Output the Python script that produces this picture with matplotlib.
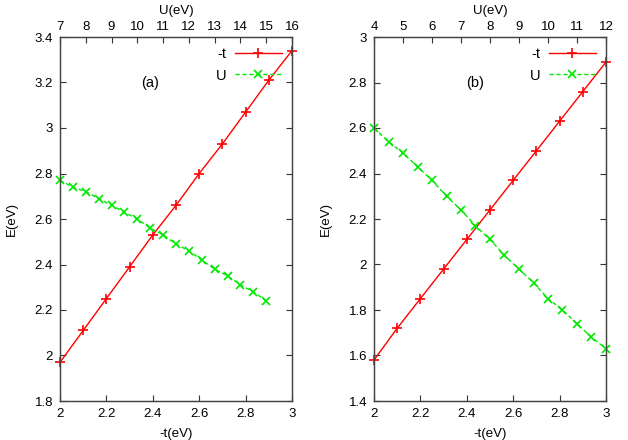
import matplotlib
matplotlib.use("Agg")
import matplotlib.pyplot as plt
import numpy as np

plt.rcParams['font.family'] = ['Liberation Sans', 'DejaVu Sans']
plt.rcParams['font.size'] = 9.5

# panel (a)
t_a = [2.0, 2.1, 2.2, 2.3, 2.4, 2.5, 2.6, 2.7, 2.8, 2.9, 3.0]
E_t_a = [1.97, 2.11, 2.25, 2.39, 2.53, 2.66, 2.80, 2.93, 3.07, 3.21, 3.34]
U_a = [7.0, 7.5, 8.0, 8.5, 9.0, 9.5, 10.0, 10.5, 11.0, 11.5, 12.0, 12.5, 13.0, 13.5, 14.0, 14.5, 15.0]
E_U_a = [2.77, 2.74, 2.72, 2.69, 2.66, 2.63, 2.60, 2.56, 2.53, 2.49, 2.46, 2.42, 2.38, 2.35, 2.31, 2.28, 2.24]

# panel (b)
t_b = [2.0, 2.1, 2.2, 2.3, 2.4, 2.5, 2.6, 2.7, 2.8, 2.9, 3.0]
E_t_b = [1.58, 1.72, 1.85, 1.98, 2.11, 2.24, 2.37, 2.50, 2.63, 2.76, 2.89]
U_b = [4.0, 4.5, 5.0, 5.5, 6.0, 6.5, 7.0, 7.5, 8.0, 8.5, 9.0, 9.5, 10.0, 10.5, 11.0, 11.5, 12.0]
E_U_b = [2.60, 2.54, 2.49, 2.43, 2.37, 2.30, 2.24, 2.17, 2.11, 2.04, 1.98, 1.92, 1.85, 1.80, 1.74, 1.68, 1.63]

panels = [
    dict(t=t_a, Et=E_t_a, U=U_a, EU=E_U_a, ylim=(1.8, 3.4), ulim=(7, 16),
         uticks=np.arange(7, 17, 1), label='(a)', lx=2.39, ly=3.2, left=60),
    dict(t=t_b, Et=E_t_b, U=U_b, EU=E_U_b, ylim=(1.4, 3.0), ulim=(4, 12),
         uticks=np.arange(4, 13, 1), label='(b)', lx=2.435, ly=2.8, left=374),
]

W, H = 628, 440
fig = plt.figure(figsize=(W / 100, H / 100), dpi=100)

red = '#ff0000'
green = '#00e800'

for p in panels:
    ax = fig.add_axes([p['left'] / W, (H - 401) / H, 232 / W, 364 / H])
    ax2 = ax.twiny()

    l1, = ax.plot(p['t'], p['Et'], color=red, lw=1.0, marker='+', ms=6.5, mew=1.2,
                  label='-t', clip_on=False)
    l2, = ax2.plot(p['U'], p['EU'], color=green, lw=1.0, ls=(0, (3, 2)), marker='x',
                   ms=6, mew=1.2, label='U', clip_on=False)

    ax.set_xlim(2, 3)
    ax.set_ylim(*p['ylim'])
    ax2.set_xlim(*p['ulim'])
    ax.set_xticks([2, 2.2, 2.4, 2.6, 2.8, 3])
    ax.set_xticklabels(['2', '2.2', '2.4', '2.6', '2.8', '3'])
    yt = np.round(np.arange(p['ylim'][0], p['ylim'][1] + 0.01, 0.2), 1)
    ax.set_yticks(yt)
    ax.set_yticklabels(['%g' % v for v in yt])
    ax2.set_xticks(p['uticks'])

    for a in (ax, ax2):
        a.tick_params(direction='in', length=4, width=0.8, colors='#333333', labelcolor='black')
        for s in a.spines.values():
            s.set_color('#444444')
            s.set_linewidth(0.9)
    ax.tick_params(right=True, pad=5)
    ax2.tick_params(top=True, pad=3)

    ax.set_xlabel('-t(eV)', labelpad=6)
    ax.set_ylabel('E(eV)', labelpad=12)
    ax2.set_xlabel('U(eV)', labelpad=5)

    ax.text(p['lx'], p['ly'], p['label'], ha='center', va='center', fontsize=10.5)

    ax.legend([l1, l2], ['-t', 'U'], loc='upper right', frameon=False, markerfirst=False,
              handlelength=3.2, borderaxespad=0.3, labelspacing=0.5, fontsize=10.5,
              handletextpad=0.6)

fig.savefig('out.png', dpi=100)
